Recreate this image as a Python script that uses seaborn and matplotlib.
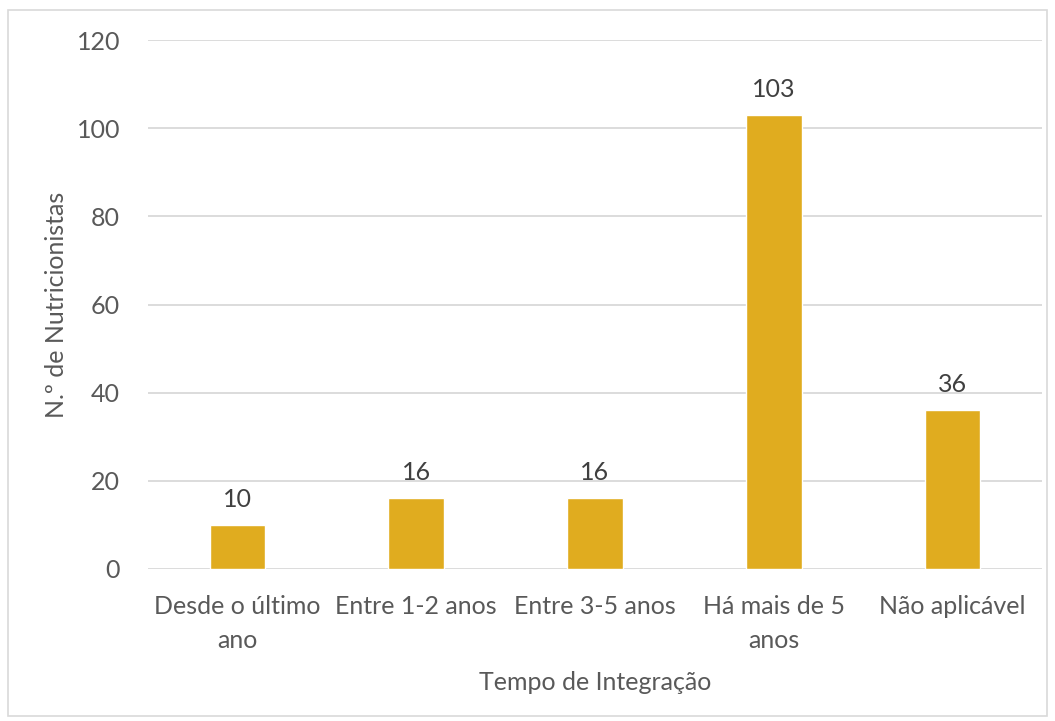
import matplotlib
matplotlib.use("Agg")
import matplotlib.pyplot as plt
import seaborn as sns
import pandas as pd
from matplotlib.patches import Rectangle

categorias = ["Desde o último\nano", "Entre 1-2 anos", "Entre 3-5 anos", "Há mais de 5\nanos", "Não aplicável"]
valores = [10, 16, 16, 103, 36]
yticks = [0, 20, 40, 60, 80, 100, 120]

sns.set_theme(style="white")
plt.rcParams["font.family"] = ["Lato", "DejaVu Sans"]

df = pd.DataFrame({"cat": categorias, "n": valores})

fig = plt.figure(figsize=(10.55, 7.21), dpi=100)
ax = fig.add_axes([148 / 1055, 1 - 569 / 721, (1042 - 148) / 1055, (569 - 40) / 721])

sns.barplot(data=df, x="cat", y="n", color="#E0AC1F", width=0.31, saturation=1, ax=ax, zorder=3)

FS = 18
ax.set_ylim(0, 120)
ax.set_yticks(yticks)
ax.set_xlim(-0.5, len(categorias) - 0.5)
ax.yaxis.grid(True, color="#D9D9D9", linewidth=1.3, zorder=0)
for s in ax.spines.values():
    s.set_visible(False)
ax.tick_params(axis="both", length=0, labelsize=FS, colors="#595959")
ax.tick_params(axis="y", pad=20)
ax.tick_params(axis="x", pad=19)
for lbl in ax.get_xticklabels():
    lbl.set_linespacing(1.55)

for i, v in enumerate(valores):
    ax.text(i, v + 3.2, str(v), ha="center", va="bottom", fontsize=FS, color="#404040")

ax.set_xlabel("Tempo de Integração", fontsize=FS, color="#595959", labelpad=14)
ax.set_ylabel("N.º de Nutricionistas", fontsize=FS, color="#595959", labelpad=6)

fig.patches.append(Rectangle((8 / 1055, 1 - 716 / 721), (1047 - 8) / 1055, (716 - 10) / 721,
                             transform=fig.transFigure, fill=False, edgecolor="#D9D9D9", linewidth=1.2))

fig.savefig("out.png", dpi=100)
